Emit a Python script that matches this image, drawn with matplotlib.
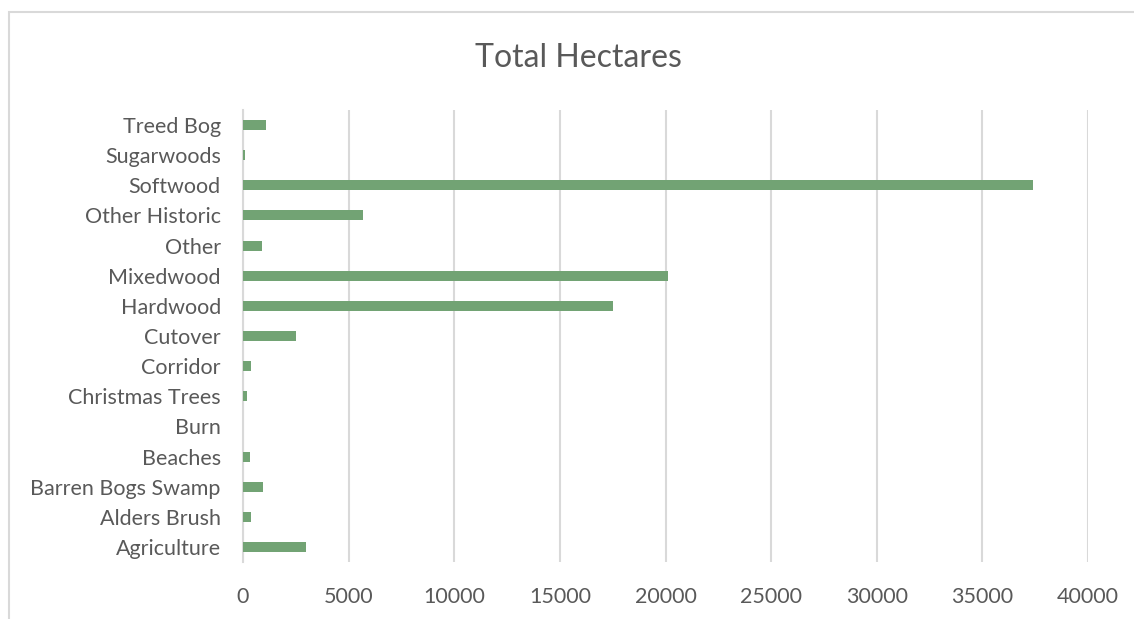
import matplotlib
matplotlib.use("Agg")
import matplotlib.pyplot as plt
from matplotlib.patches import Rectangle

# categories, bottom to top as drawn
categories = ["Agriculture", "Alders Brush", "Barren Bogs Swamp", "Beaches", "Burn",
              "Christmas Trees", "Corridor", "Cutover", "Hardwood", "Mixedwood",
              "Other", "Other Historic", "Softwood", "Sugarwoods", "Treed Bog"]
hectares = [3000, 380, 970, 320, 0,
            180, 370, 2500, 17500, 20100,
            890, 5700, 37400, 100, 1070]
xticks = [0, 5000, 10000, 15000, 20000, 25000, 30000, 35000, 40000]

bar_color = "#72A374"
text_color = "#595959"
grid_color = "#D9D9D9"

plt.rcParams['font.family'] = ['Lato', 'DejaVu Sans']

fig = plt.figure(figsize=(11.34, 6.19), dpi=100)
ax = fig.add_axes([243/1134, 1 - 562/619, (1088 - 243)/1134, (562 - 110)/619])

ypos = list(range(len(categories)))
ax.barh(ypos, hectares, height=0.33, color=bar_color, zorder=3)

ax.set_xlim(0, 40000)
ax.set_ylim(-0.5, len(categories) - 0.5)
ax.set_xticks(xticks)
ax.set_xticklabels([str(t) for t in xticks])
ax.set_yticks(ypos)
ax.set_yticklabels(categories)
ax.tick_params(axis="both", length=0, labelsize=15.5, colors=text_color)
ax.tick_params(axis="x", pad=18)
ax.tick_params(axis="y", pad=16)

ax.grid(axis="x", color=grid_color, linewidth=1.5, zorder=0)
for s in ["top", "right", "bottom"]:
    ax.spines[s].set_visible(False)
ax.spines["left"].set_color(grid_color)
ax.spines["left"].set_linewidth(1.5)

fig.text(578/1134, 1 - 58/619, "Total Hectares", ha="center", va="center",
         fontsize=23, color=text_color)

# chart area border
fig.patches.append(Rectangle((9/1134, -0.1), 1.2, 1.1 - 12/619, transform=fig.transFigure,
                             fill=False, edgecolor=grid_color, linewidth=1.5))

fig.savefig("out.png", dpi=100)
